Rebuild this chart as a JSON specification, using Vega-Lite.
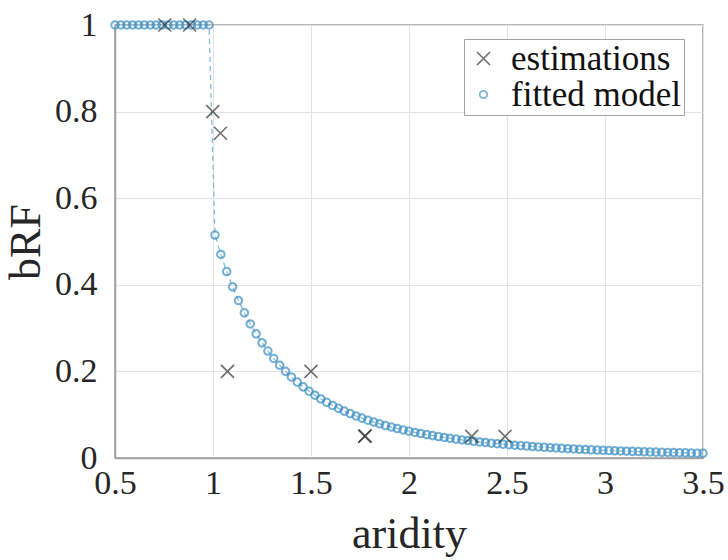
{
  "$schema": "https://vega.github.io/schema/vega-lite/v6.json",
  "width": 588,
  "height": 433,
  "autosize": {"type": "none"},
  "padding": {"left": 115, "top": 25, "right": 25, "bottom": 102},
  "background": "white",
  "config": {
    "font": "Liberation Serif",
    "view": {"stroke": "#a0a0a0", "strokeWidth": 1.5},
    "axis": {
      "labelFont": "Liberation Serif",
      "titleFont": "Liberation Serif",
      "labelFontSize": 34,
      "titleFontSize": 44,
      "labelColor": "#262626",
      "titleColor": "#262626",
      "titleFontWeight": "normal",
      "domainColor": "#a0a0a0",
      "domainWidth": 1.5,
      "gridColor": "#e3e3e3",
      "gridWidth": 1,
      "ticks": false,
      "labelFlush": false,
      "format": "~g"
    },
    "legend": {
      "labelFont": "Liberation Serif",
      "labelFontSize": 35,
      "labelColor": "#111111",
      "labelLimit": 400
    }
  },
  "datasets": {
    "est": [
      {"aridity": 0.754, "bRF": 1.0, "series": "estimations"},
      {"aridity": 0.881, "bRF": 1.0, "series": "estimations"},
      {"aridity": 0.999, "bRF": 0.8, "series": "estimations"},
      {"aridity": 1.038, "bRF": 0.75, "series": "estimations"},
      {"aridity": 1.074, "bRF": 0.2, "series": "estimations"},
      {"aridity": 1.5, "bRF": 0.2, "series": "estimations"},
      {"aridity": 1.774, "bRF": 0.05, "series": "estimations"},
      {"aridity": 1.776, "bRF": 0.051, "series": "estimations"},
      {"aridity": 2.32, "bRF": 0.05, "series": "estimations"},
      {"aridity": 2.49, "bRF": 0.05, "series": "estimations"}
    ],
    "fit": [
      {"aridity": 0.50, "bRF": 1, "series": "fitted model"},
      {"aridity": 0.53, "bRF": 1, "series": "fitted model"},
      {"aridity": 0.56, "bRF": 1, "series": "fitted model"},
      {"aridity": 0.59, "bRF": 1, "series": "fitted model"},
      {"aridity": 0.62, "bRF": 1, "series": "fitted model"},
      {"aridity": 0.65, "bRF": 1, "series": "fitted model"},
      {"aridity": 0.68, "bRF": 1, "series": "fitted model"},
      {"aridity": 0.71, "bRF": 1, "series": "fitted model"},
      {"aridity": 0.74, "bRF": 1, "series": "fitted model"},
      {"aridity": 0.77, "bRF": 1, "series": "fitted model"},
      {"aridity": 0.80, "bRF": 1, "series": "fitted model"},
      {"aridity": 0.83, "bRF": 1, "series": "fitted model"},
      {"aridity": 0.86, "bRF": 1, "series": "fitted model"},
      {"aridity": 0.89, "bRF": 1, "series": "fitted model"},
      {"aridity": 0.92, "bRF": 1, "series": "fitted model"},
      {"aridity": 0.95, "bRF": 1, "series": "fitted model"},
      {"aridity": 0.98, "bRF": 1, "series": "fitted model"},
      {"aridity": 1.01, "bRF": 0.5149, "series": "fitted model"},
      {"aridity": 1.04, "bRF": 0.4702, "series": "fitted model"},
      {"aridity": 1.07, "bRF": 0.4305, "series": "fitted model"},
      {"aridity": 1.10, "bRF": 0.3952, "series": "fitted model"},
      {"aridity": 1.13, "bRF": 0.3635, "series": "fitted model"},
      {"aridity": 1.16, "bRF": 0.3352, "series": "fitted model"},
      {"aridity": 1.19, "bRF": 0.3097, "series": "fitted model"},
      {"aridity": 1.22, "bRF": 0.2867, "series": "fitted model"},
      {"aridity": 1.25, "bRF": 0.2659, "series": "fitted model"},
      {"aridity": 1.28, "bRF": 0.2470, "series": "fitted model"},
      {"aridity": 1.31, "bRF": 0.2299, "series": "fitted model"},
      {"aridity": 1.34, "bRF": 0.2143, "series": "fitted model"},
      {"aridity": 1.37, "bRF": 0.2001, "series": "fitted model"},
      {"aridity": 1.40, "bRF": 0.1871, "series": "fitted model"},
      {"aridity": 1.43, "bRF": 0.1752, "series": "fitted model"},
      {"aridity": 1.46, "bRF": 0.1643, "series": "fitted model"},
      {"aridity": 1.49, "bRF": 0.1543, "series": "fitted model"},
      {"aridity": 1.52, "bRF": 0.1450, "series": "fitted model"},
      {"aridity": 1.55, "bRF": 0.1365, "series": "fitted model"},
      {"aridity": 1.58, "bRF": 0.1286, "series": "fitted model"},
      {"aridity": 1.61, "bRF": 0.1213, "series": "fitted model"},
      {"aridity": 1.64, "bRF": 0.1146, "series": "fitted model"},
      {"aridity": 1.67, "bRF": 0.1083, "series": "fitted model"},
      {"aridity": 1.70, "bRF": 0.1025, "series": "fitted model"},
      {"aridity": 1.73, "bRF": 0.0971, "series": "fitted model"},
      {"aridity": 1.76, "bRF": 0.0921, "series": "fitted model"},
      {"aridity": 1.79, "bRF": 0.0873, "series": "fitted model"},
      {"aridity": 1.82, "bRF": 0.0830, "series": "fitted model"},
      {"aridity": 1.85, "bRF": 0.0789, "series": "fitted model"},
      {"aridity": 1.88, "bRF": 0.0750, "series": "fitted model"},
      {"aridity": 1.91, "bRF": 0.0714, "series": "fitted model"},
      {"aridity": 1.94, "bRF": 0.0681, "series": "fitted model"},
      {"aridity": 1.97, "bRF": 0.0649, "series": "fitted model"},
      {"aridity": 2.00, "bRF": 0.0619, "series": "fitted model"},
      {"aridity": 2.03, "bRF": 0.0591, "series": "fitted model"},
      {"aridity": 2.06, "bRF": 0.0565, "series": "fitted model"},
      {"aridity": 2.09, "bRF": 0.0540, "series": "fitted model"},
      {"aridity": 2.12, "bRF": 0.0517, "series": "fitted model"},
      {"aridity": 2.15, "bRF": 0.0495, "series": "fitted model"},
      {"aridity": 2.18, "bRF": 0.0474, "series": "fitted model"},
      {"aridity": 2.21, "bRF": 0.0454, "series": "fitted model"},
      {"aridity": 2.24, "bRF": 0.0436, "series": "fitted model"},
      {"aridity": 2.27, "bRF": 0.0418, "series": "fitted model"},
      {"aridity": 2.30, "bRF": 0.0402, "series": "fitted model"},
      {"aridity": 2.33, "bRF": 0.0386, "series": "fitted model"},
      {"aridity": 2.36, "bRF": 0.0371, "series": "fitted model"},
      {"aridity": 2.39, "bRF": 0.0356, "series": "fitted model"},
      {"aridity": 2.42, "bRF": 0.0343, "series": "fitted model"},
      {"aridity": 2.45, "bRF": 0.0330, "series": "fitted model"},
      {"aridity": 2.48, "bRF": 0.0318, "series": "fitted model"},
      {"aridity": 2.51, "bRF": 0.0306, "series": "fitted model"},
      {"aridity": 2.54, "bRF": 0.0295, "series": "fitted model"},
      {"aridity": 2.57, "bRF": 0.0285, "series": "fitted model"},
      {"aridity": 2.60, "bRF": 0.0275, "series": "fitted model"},
      {"aridity": 2.63, "bRF": 0.0265, "series": "fitted model"},
      {"aridity": 2.66, "bRF": 0.0256, "series": "fitted model"},
      {"aridity": 2.69, "bRF": 0.0247, "series": "fitted model"},
      {"aridity": 2.72, "bRF": 0.0239, "series": "fitted model"},
      {"aridity": 2.75, "bRF": 0.0231, "series": "fitted model"},
      {"aridity": 2.78, "bRF": 0.0223, "series": "fitted model"},
      {"aridity": 2.81, "bRF": 0.0216, "series": "fitted model"},
      {"aridity": 2.84, "bRF": 0.0209, "series": "fitted model"},
      {"aridity": 2.87, "bRF": 0.0202, "series": "fitted model"},
      {"aridity": 2.90, "bRF": 0.0196, "series": "fitted model"},
      {"aridity": 2.93, "bRF": 0.0190, "series": "fitted model"},
      {"aridity": 2.96, "bRF": 0.0184, "series": "fitted model"},
      {"aridity": 2.99, "bRF": 0.0178, "series": "fitted model"},
      {"aridity": 3.02, "bRF": 0.0172, "series": "fitted model"},
      {"aridity": 3.05, "bRF": 0.0167, "series": "fitted model"},
      {"aridity": 3.08, "bRF": 0.0162, "series": "fitted model"},
      {"aridity": 3.11, "bRF": 0.0158, "series": "fitted model"},
      {"aridity": 3.14, "bRF": 0.0153, "series": "fitted model"},
      {"aridity": 3.17, "bRF": 0.0149, "series": "fitted model"},
      {"aridity": 3.20, "bRF": 0.0144, "series": "fitted model"},
      {"aridity": 3.23, "bRF": 0.0140, "series": "fitted model"},
      {"aridity": 3.26, "bRF": 0.0136, "series": "fitted model"},
      {"aridity": 3.29, "bRF": 0.0132, "series": "fitted model"},
      {"aridity": 3.32, "bRF": 0.0129, "series": "fitted model"},
      {"aridity": 3.35, "bRF": 0.0125, "series": "fitted model"},
      {"aridity": 3.38, "bRF": 0.0122, "series": "fitted model"},
      {"aridity": 3.41, "bRF": 0.0118, "series": "fitted model"},
      {"aridity": 3.44, "bRF": 0.0115, "series": "fitted model"},
      {"aridity": 3.47, "bRF": 0.0112, "series": "fitted model"},
      {"aridity": 3.50, "bRF": 0.0109, "series": "fitted model"}
    ]
  },
  "encoding": {
    "x": {
      "field": "aridity",
      "type": "quantitative",
      "scale": {"domain": [0.5, 3.5], "nice": false, "zero": false},
      "axis": {
        "title": "aridity",
        "values": [0.5, 1, 1.5, 2, 2.5, 3, 3.5],
        "labelPadding": 8,
        "titlePadding": 12
      }
    },
    "y": {
      "field": "bRF",
      "type": "quantitative",
      "scale": {"domain": [0, 1], "nice": false},
      "axis": {
        "title": "bRF",
        "values": [0, 0.2, 0.4, 0.6, 0.8, 1],
        "labelPadding": 18,
        "titlePadding": 6
      }
    }
  },
  "layer": [
    {
      "data": {"name": "fit"},
      "mark": {"type": "line", "color": "#7bb8dc", "strokeWidth": 1.2, "strokeDash": [5, 4]},
      "encoding": {}
    },
    {
      "data": {"name": "fit"},
      "mark": {"type": "point", "filled": false, "strokeWidth": 2, "size": 169},
      "encoding": {
        "color": {"field": "series", "type": "nominal", "scale": {"domain": ["estimations", "fitted model"], "range": ["#333333", "#3a8fc4"]},
          "legend": {"title": null, "orient": "none", "legendX": 349, "legendY": 14, "strokeColor": "#a0a0a0", "fillColor": "white", "padding": 2, "symbolSize": 169, "symbolStrokeWidth": 1.6, "rowPadding": 0, "labelOffset": 10, "offset": 0}},
        "shape": {"field": "series", "type": "nominal", "scale": {"domain": ["estimations", "fitted model"], "range": ["M-1,-1L1,1M1,-1L-1,1", "M-0.58,0A0.58,0.58 0 1,0 0.58,0A0.58,0.58 0 1,0 -0.58,0"]},
          "legend": {"title": null, "orient": "none", "legendX": 349, "legendY": 14, "strokeColor": "#a0a0a0", "fillColor": "white", "padding": 2, "symbolSize": 169, "symbolStrokeWidth": 1.6, "rowPadding": 0, "labelOffset": 10, "offset": 0}}
      }
    },
    {
      "data": {"name": "est"},
      "mark": {"type": "point", "filled": false, "strokeWidth": 1.6, "size": 169},
      "encoding": {
        "color": {"field": "series", "type": "nominal", "scale": {"domain": ["estimations", "fitted model"], "range": ["#333333", "#3a8fc4"]},
          "legend": {"title": null, "orient": "none", "legendX": 349, "legendY": 14, "strokeColor": "#a0a0a0", "fillColor": "white", "padding": 2, "symbolSize": 169, "symbolStrokeWidth": 1.6, "rowPadding": 0, "labelOffset": 10, "offset": 0}},
        "shape": {"field": "series", "type": "nominal", "scale": {"domain": ["estimations", "fitted model"], "range": ["M-1,-1L1,1M1,-1L-1,1", "M-0.58,0A0.58,0.58 0 1,0 0.58,0A0.58,0.58 0 1,0 -0.58,0"]},
          "legend": {"title": null, "orient": "none", "legendX": 349, "legendY": 14, "strokeColor": "#a0a0a0", "fillColor": "white", "padding": 2, "symbolSize": 169, "symbolStrokeWidth": 1.6, "rowPadding": 0, "labelOffset": 10, "offset": 0}}
      }
    }
  ]
}
